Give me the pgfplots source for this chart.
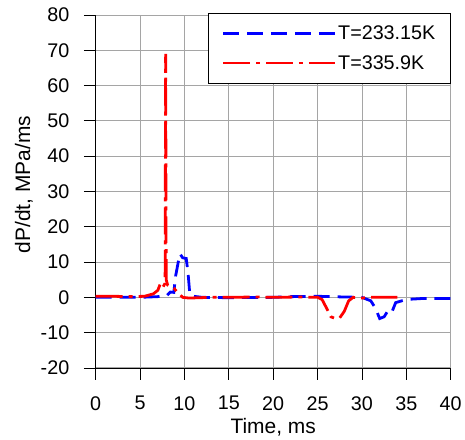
\documentclass[border=0pt]{standalone}
\usepackage{fontspec}
\setmainfont{Liberation Sans}
\usepackage{pgfplots}
\pgfplotsset{compat=1.18}
\newcommand\chfont{\fontsize{19.8}{22}\selectfont}
\newcommand\lbfont{\fontsize{21}{24}\selectfont}
\definecolor{gridgray}{RGB}{165,165,165}
\begin{document}
\begin{tikzpicture}
\begin{axis}[
  scale only axis, width=356pt, height=354pt,
  at={(0,0)}, anchor=south west,
  xmin=0, xmax=40, ymin=-20, ymax=80,
  xtick={0,5,...,40}, ytick={-20,-10,...,80},
  axis line style={black, line width=0.8pt},
  axis x line*=bottom, axis y line*=left,
  tick align=outside, major tick length=12pt,
  tick style={black, line width=0.8pt},
  grid=major, major grid style={gridgray, line width=0.9pt},
  /pgf/number format/assume math mode=true,
  tick label style={font=\chfont},
  xticklabel style={yshift=-13pt},
  yticklabel style={xshift=-11pt},
  xlabel={Time, ms}, ylabel={dP/dt, MPa/ms},
  label style={font=\lbfont},
  xlabel style={yshift=-1pt},
  ylabel style={yshift=1pt, xshift=7pt},
  legend style={at={(1,1.006)}, anchor=north east, draw=black, line width=0.8pt,
    font=\chfont, inner xsep=13pt, inner ysep=11pt, row sep=10pt,
    /tikz/every even column/.append style={column sep=18pt}},
  legend cell align=left,
  legend image code/.code={\draw[#1, line width=2.8pt] (0pt,0pt) -- (112pt,0pt);},
  clip=true,
]
\addplot[gridgray, line width=0.9pt, forget plot] coordinates {(40,-20) (40,80)};
\addplot[gridgray, line width=0.9pt, forget plot] coordinates {(0,80) (40,80)};
\addplot[blue, line width=2.8pt, dash pattern=on 16pt off 8pt] coordinates {
(0,0) (3,0) (5,0) (7,0.2) (8,0.5) (8.4,1.5) (8.8,1.4) (9.0,6) (9.3,10) (9.5,12.3) (9.8,11.2) (10.2,11) (10.4,7) (10.6,1) (11,0.3) (12,0) (15,-0.1) (20,0) (22,0.2) (25,0.3) (28,0.1) (30,0) (31,-1) (31.5,-3) (32,-6) (32.5,-5.5) (33,-3.5) (33.4,-4) (33.8,-1.5) (35,-0.6) (37,-0.3) (40,-0.3)
};
\addlegendentry{T=233.15K}
\addplot[red, line width=2.8pt, dash pattern=on 27pt off 6pt on 4pt off 6pt] coordinates {
(0,0.3) (2,0.3) (4,0.2) (5.5,0.3) (6.5,1) (7,2) (7.3,4) (7.6,3) (7.82,4) (7.88,69) (7.94,5) (8.1,3.5) (8.3,3.2) (8.8,2.6) (9.3,1.2) (9.8,0) (10.5,-0.2) (13,0) (15,0) (18,0.1) (20,0) (23,0.1) (25,0) (25.5,-0.6) (26,-3) (26.5,-5.5) (27,-6) (27.5,-5.8) (28,-4) (28.5,-1) (29,0) (30,-0.2) (31,0) (33,0) (34,0)
};
\addlegendentry{T=335.9K}
\end{axis}
\path[use as bounding box] (-96pt,-68pt) rectangle (369pt,369pt);
\end{tikzpicture}
\end{document}
